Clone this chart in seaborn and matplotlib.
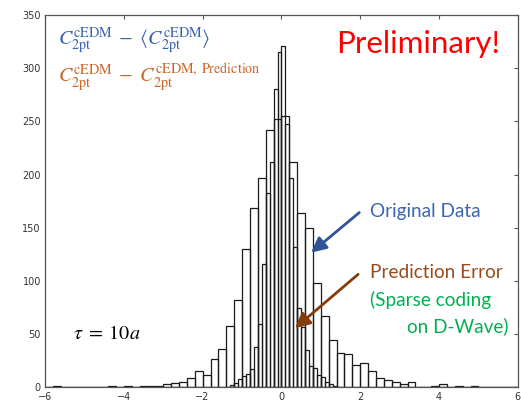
import numpy as np
import pandas as pd
import matplotlib
matplotlib.use("Agg")
import matplotlib.pyplot as plt
import seaborn as sns

# ---- data: original data histogram (bin width 0.2) ----
orig_left_edges = [-5.8, -4.4, -4.0, -3.6, -3.4, -3.2, -3.0, -2.8, -2.6, -2.4, -2.2, -2.0,
                   -1.8, -1.6, -1.4, -1.2, -1.0, -0.8, -0.6, -0.4, -0.2, 0.0, 0.2, 0.4,
                   0.6, 0.8, 1.0, 1.2, 1.4, 1.6, 1.8, 2.0, 2.2, 2.4, 2.6, 2.8, 3.0, 3.2,
                   3.8, 4.0, 4.4, 4.8]
orig_counts = [1, 1, 1, 1, 1, 1, 3, 4, 5, 9, 15, 12,
               27, 36, 58, 82, 130, 169, 197, 242, 252, 255, 212, 164,
               150, 98, 67, 45, 32, 31, 21, 23, 15, 9, 7, 5, 3, 5,
               1, 3, 1, 1]

# ---- data: prediction error histogram (bin width 0.1) ----
pred_left_edges = [-1.3, -1.2, -1.1, -1.0, -0.9, -0.8, -0.7, -0.6, -0.5, -0.4, -0.3, -0.2,
                   -0.1, 0.0, 0.1, 0.2, 0.3, 0.4, 0.5, 0.6, 0.7, 0.8, 0.9, 1.0, 1.1, 1.2, 1.3]
pred_counts = [2, 4, 8, 11, 13, 17, 38, 60, 116, 183, 212, 280,
               315, 321, 248, 197, 132, 75, 57, 35, 20, 18, 12, 10, 5, 3, 1]

x_ticks = [-6, -4, -2, 0, 2, 4, 6]
y_ticks = [0, 50, 100, 150, 200, 250, 300, 350]

sns.set_style("white")
plt.rcParams["mathtext.fontset"] = "stix"

fig = plt.figure(figsize=(5.21, 4.04), dpi=100)
ax = fig.add_axes([0.0864, 0.041, 0.9076, 0.922])

orig_w = 0.2
pred_w = 0.1
df_o = pd.DataFrame({"x": np.array(orig_left_edges) + orig_w / 2, "w": orig_counts})
df_p = pd.DataFrame({"x": np.array(pred_left_edges) + pred_w / 2, "w": pred_counts})
edges_o = [round(v, 6) for v in np.arange(-6.0, 6.0001, orig_w)]
edges_p = [round(v, 6) for v in np.arange(-6.0, 6.0001, pred_w)]

sns.histplot(data=df_o, x="x", weights="w", bins=edges_o, fill=False, element="bars",
             color="#1a1a1a", linewidth=0.9, ax=ax)
sns.histplot(data=df_p, x="x", weights="w", bins=edges_p, fill=False, element="bars",
             color="#1a1a1a", linewidth=0.9, ax=ax)

ax.set_xlim(-6, 6)
ax.set_ylim(0, 350)
ax.set_xticks(x_ticks)
ax.set_yticks(y_ticks)
ax.set_xlabel("")
ax.set_ylabel("")
ax.tick_params(direction="in", length=3, width=0.8, colors="#555555", labelsize=7,
               labelcolor="#333333", top=True, right=True, pad=3)
for s in ax.spines.values():
    s.set_color("#555555")
    s.set_linewidth(0.9)

# annotations
ax.text(-5.68, 326, r"$C_{2\mathrm{pt}}^{\mathrm{cEDM}}\;-\;\langle C_{2\mathrm{pt}}^{\mathrm{cEDM}}\rangle$",
        color="#3a62ae", fontsize=14.5, ha="left", va="center")
ax.text(-5.68, 292, r"$C_{2\mathrm{pt}}^{\mathrm{cEDM}}\;-\;C_{2\mathrm{pt}}^{\mathrm{cEDM,\;Prediction}}$",
        color="#c8662a", fontsize=14.5, ha="left", va="center")
ax.text(3.46, 323, "Preliminary!", color="#ff0000", fontsize=22.5, family="Lato",
        ha="center", va="center")
ax.text(-5.3, 51, r"$\tau\;=\;10a$", color="black", fontsize=14.5, ha="left", va="center")

ax.text(2.26, 165, "Original Data", color="#3c64b1", fontsize=13.7, family="Lato",
        ha="left", va="center")
ax.text(2.26, 108, "Prediction Error", color="#974c1c", fontsize=13.7, family="Lato",
        ha="left", va="center")
ax.text(2.26, 82, "(Sparse coding", color="#00b050", fontsize=13.7, family="Lato",
        ha="left", va="center")
ax.text(5.76, 58, "on D-Wave)", color="#00b050", fontsize=13.7, family="Lato",
        ha="right", va="center")

ax.annotate("", xy=(0.70, 125), xytext=(2.03, 166),
            arrowprops=dict(arrowstyle="-|>,head_length=0.9,head_width=0.45",
                            color="#2f5597", lw=2))
ax.annotate("", xy=(0.29, 54), xytext=(2.0, 108),
            arrowprops=dict(arrowstyle="-|>,head_length=0.9,head_width=0.45",
                            color="#843c0c", lw=2))

fig.savefig("out.png", dpi=100)
